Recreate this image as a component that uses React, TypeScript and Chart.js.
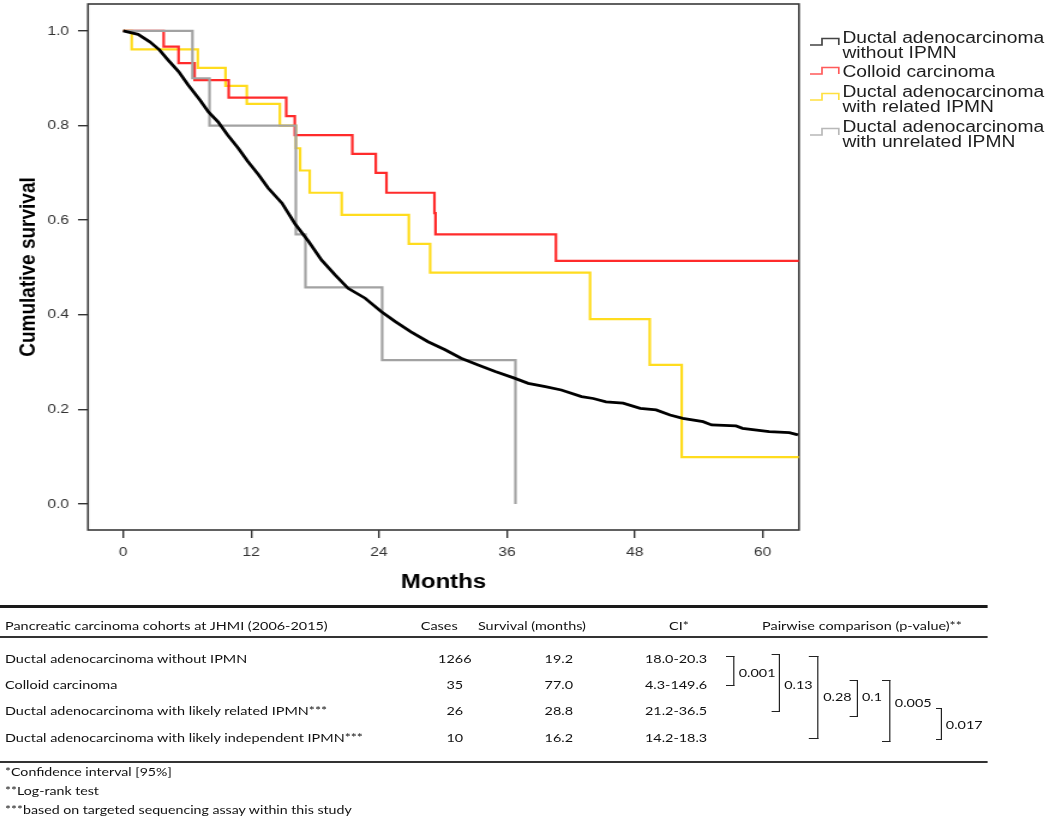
import React, { useEffect, useRef } from "react";
import { Chart, registerables } from "chart.js";

Chart.register(...registerables);

// ---------------- data ----------------
const xTickValues = [0, 12, 24, 36, 48, 60];
const yTickValues = [0, 0.2, 0.4, 0.6, 0.8, 1.0];

const noIpmnMonths = [0, 1.4, 2.5, 3.4, 4.2, 5.2, 6.1, 7.2, 8.0, 8.9, 9.8, 10.8, 11.7, 12.7, 13.6, 14.9, 16.1, 17.4, 18.6, 19.9, 21.1, 22.7, 24.2, 25.5, 27.0, 28.6, 30.2, 31.7, 33.3, 34.9, 36.7, 38.0, 39.6, 41.1, 43.0, 44.1, 45.3, 46.9, 48.5, 50.0, 51.3, 52.5, 54.4, 55.2, 57.5, 58.1, 60.6, 62.5, 63.3];
const noIpmnSurvival = [1, 0.993, 0.977, 0.96, 0.939, 0.914, 0.886, 0.854, 0.829, 0.808, 0.78, 0.752, 0.724, 0.696, 0.668, 0.636, 0.593, 0.555, 0.516, 0.484, 0.456, 0.435, 0.407, 0.386, 0.364, 0.343, 0.326, 0.308, 0.294, 0.28, 0.266, 0.255, 0.248, 0.241, 0.227, 0.223, 0.216, 0.213, 0.202, 0.199, 0.188, 0.181, 0.174, 0.167, 0.165, 0.16, 0.153, 0.151, 0.146];

const colloidMonths = [0, 3.8, 5.2, 6.7, 9.9, 15.3, 16.1, 21.5, 23.7, 24.7, 29.2, 29.3, 40.6, 63.4];
const colloidSurvival = [1, 0.967, 0.932, 0.896, 0.859, 0.82, 0.78, 0.74, 0.7, 0.658, 0.615, 0.57, 0.514, 0.514];

const relatedMonths = [0, 0.8, 7.0, 9.6, 11.6, 14.7, 16.2, 16.6, 17.5, 20.5, 26.8, 28.8, 43.8, 49.4, 52.4, 63.4];
const relatedSurvival = [1, 0.961, 0.922, 0.884, 0.846, 0.8, 0.752, 0.705, 0.658, 0.611, 0.55, 0.489, 0.391, 0.294, 0.099, 0.099];

const unrelatedMonths = [0, 6.5, 8.1, 16.2, 17.1, 24.3, 36.8];
const unrelatedSurvival = [1, 0.9, 0.8, 0.57, 0.458, 0.304, 0.0];

const legendLabels = [
  ["Ductal adenocarcinoma", "without IPMN"],
  ["Colloid carcinoma"],
  ["Ductal adenocarcinoma", "with related IPMN"],
  ["Ductal adenocarcinoma", "with unrelated IPMN"],
];

const tableHeaders = ["Pancreatic carcinoma cohorts at JHMI (2006-2015)", "Cases", "Survival (months)", "CI*", "Pairwise comparison (p-value)**"];
const cohortNames = [
  "Ductal adenocarcinoma without IPMN",
  "Colloid carcinoma",
  "Ductal adenocarcinoma with likely related IPMN***",
  "Ductal adenocarcinoma with likely independent IPMN***",
];
const cohortCases = ["1266", "35", "26", "10"];
const medianSurvival = ["19.2", "77.0", "28.8", "16.2"];
const confidenceIntervals = ["18.0-20.3", "4.3-149.6", "21.2-36.5", "14.2-18.3"];
const pairwisePValues = ["0.001", "0.13", "0.28", "0.1", "0.005", "0.017"];
const footnotes = ["*Confidence interval [95%]", "**Log-rank test", "***based on targeted sequencing assay within this study"];

// ---------------- styling / layout ----------------
const STRETCH = 1.2;
const CW = 875;
const CH = 600;
const seriesColors = ["#000000", "#ff2b2b", "#ffdc1e", "#a2a2a2"];
const legendIconColors = ["#444444", "#ff5a5a", "#ffe040", "#b8b8b8"];
const axisFont = "'Liberation Sans', Arial, sans-serif";
const tableFont = "Lato, 'Open Sans', sans-serif";

const legendLineY = [[38, 52.7], [71.7], [91.7, 106.7], [126.7, 141.7]];
const legendIconY = [38, 67, 93, 128];

const rowY = [659, 685, 711, 738];
const headerY = 626;
const footY = [772, 791, 810];
const brackets = [
  { x: 612.1, x0: 605, top: 656, bottom: 686, labelY: 672.8 },
  { x: 650, x0: 643.1, top: 654, bottom: 712, labelY: 685 },
  { x: 682.5, x0: 674.2, top: 656, bottom: 739, labelY: 697 },
  { x: 714.8, x0: 708.3, top: 679.5, bottom: 716.7, labelY: 697 },
  { x: 742.2, x0: 734.6, top: 679.5, bottom: 742, labelY: 703 },
  { x: 784.7, x0: 779.6, top: 708, bottom: 740, labelY: 724.5 },
];

const toPoints = (xs: number[], ys: number[]) => xs.map((x, i) => ({ x, y: ys[i] }));

const framePlugin = {
  id: "frameBox",
  beforeDatasetsDraw(chart: any) {
    const { ctx, chartArea: a } = chart;
    ctx.save();
    ctx.strokeStyle = "#3a3a3a";
    ctx.lineWidth = 1.6;
    ctx.strokeRect(a.left, a.top, a.right - a.left, a.bottom - a.top);
    ctx.restore();
  },
};

function SurvivalChart() {
  const ref = useRef<HTMLCanvasElement | null>(null);
  useEffect(() => {
    if (!ref.current) return;
    const tickFont = { family: axisFont, size: 13 };
    const chart = new Chart(ref.current, {
      type: "line",
      data: {
        datasets: [
          { label: "Ductal adenocarcinoma without IPMN", data: toPoints(noIpmnMonths, noIpmnSurvival), borderColor: seriesColors[0], borderWidth: 2.8, pointRadius: 0, tension: 0, fill: false, order: 0 },
          { label: "Colloid carcinoma", data: toPoints(colloidMonths, colloidSurvival), borderColor: seriesColors[1], borderWidth: 2.2, pointRadius: 0, stepped: "before", fill: false, order: 2 },
          { label: "Ductal adenocarcinoma with related IPMN", data: toPoints(relatedMonths, relatedSurvival), borderColor: seriesColors[2], borderWidth: 2.2, pointRadius: 0, stepped: "before", fill: false, order: 3 },
          { label: "Ductal adenocarcinoma with unrelated IPMN", data: toPoints(unrelatedMonths, unrelatedSurvival), borderColor: seriesColors[3], borderWidth: 2.2, pointRadius: 0, stepped: "before", fill: false, order: 1 },
        ],
      },
      options: {
        responsive: false,
        animation: false,
        devicePixelRatio: 1,
        layout: { padding: { left: 0, top: 4, right: CW - 665.8, bottom: 0 } },
        plugins: { legend: { display: false }, tooltip: { enabled: false }, title: { display: false } },
        scales: {
          x: {
            type: "linear",
            min: -3.3,
            max: 63.4,
            afterBuildTicks: (axis: any) => { axis.ticks = xTickValues.map((v) => ({ value: v })); },
            afterFit: (axis: any) => { axis.height = 70; axis.paddingLeft = 0; axis.paddingRight = 0; },
            ticks: { font: tickFont, color: "#333", padding: 7, maxRotation: 0, autoSkip: false, callback: (v: any) => String(v) },
            grid: { display: true, drawOnChartArea: false, drawTicks: true, tickLength: 8, color: "#333", lineWidth: 1.4 },
            border: { display: false },
            title: { display: true, text: "Months", color: "#000", font: { family: axisFont, size: 20, weight: "bold" }, padding: { top: 0, bottom: 6 } },
          },
          y: {
            type: "linear",
            min: -0.055,
            max: 1.057,
            afterBuildTicks: (axis: any) => { axis.ticks = yTickValues.map((v) => ({ value: v })); },
            afterFit: (axis: any) => { axis.width = 73.3; axis.paddingTop = 0; axis.paddingBottom = 0; },
            ticks: { font: tickFont, color: "#333", padding: 7.5, callback: (v: any) => Number(v).toFixed(1) },
            grid: { display: true, drawOnChartArea: false, drawTicks: true, tickLength: 8.3, color: "#333", lineWidth: 1.4 },
            border: { display: false },
            title: { display: true, text: "Cumulative survival", color: "#000", font: { family: axisFont, size: 19, weight: "bold" }, padding: { top: 12, bottom: 0 } },
          },
        },
      },
      plugins: [framePlugin],
    } as any);
    return () => chart.destroy();
  }, []);
  return <canvas ref={ref} width={CW} height={CH} style={{ position: "absolute", left: 0, top: 0, width: CW, height: CH }} />;
}

function StepIcon({ color, top }: { color: string; top: number }) {
  return (
    <svg width={26} height={10} style={{ position: "absolute", left: 675, top: top - 1 }} viewBox="0 0 26 10">
      <polyline points="0,8 10,8 10,1.5 24,1.5 24,8" fill="none" stroke={color} strokeWidth={1.4} />
    </svg>
  );
}

function Legend() {
  return (
    <>
      {legendLabels.map((lines, i) => (
        <React.Fragment key={i}>
          <StepIcon color={legendIconColors[i]} top={legendIconY[i]} />
          {lines.map((t, j) => (
            <div key={j} style={{ position: "absolute", left: 702, top: legendLineY[i][j] - 8, height: 16, lineHeight: "16px", fontFamily: axisFont, fontSize: 16, color: "#1e1e1e", whiteSpace: "nowrap" }}>{t}</div>
          ))}
        </React.Fragment>
      ))}
    </>
  );
}

const cellBase: React.CSSProperties = { position: "absolute", fontFamily: tableFont, fontSize: 12, color: "#111", whiteSpace: "nowrap", lineHeight: "16px", height: 16 };

function Centered({ cx, cy, text }: { cx: number; cy: number; text: string }) {
  return <div style={{ ...cellBase, left: cx - 100, width: 200, top: cy - 8, textAlign: "center" }}>{text}</div>;
}

function Table() {
  const headerCenters = [366, 443.3, 565.8, 718.3];
  return (
    <>
      <div style={{ position: "absolute", left: 0, top: 605, width: 823, height: 2.6, background: "#1a1a1a" }} />
      <div style={{ ...cellBase, left: 4.2, top: headerY - 8 }}>{tableHeaders[0]}</div>
      {headerCenters.map((c, i) => <Centered key={i} cx={c} cy={headerY} text={tableHeaders[i + 1]} />)}
      <div style={{ position: "absolute", left: 0, top: 636, width: 823, height: 1.5, background: "#333" }} />
      {cohortNames.map((n, i) => (
        <React.Fragment key={i}>
          <div style={{ ...cellBase, left: 4.2, top: rowY[i] - 8 }}>{n}</div>
          <Centered cx={379} cy={rowY[i]} text={cohortCases[i]} />
          <Centered cx={465.7} cy={rowY[i]} text={medianSurvival[i]} />
          <Centered cx={563.4} cy={rowY[i]} text={confidenceIntervals[i]} />
        </React.Fragment>
      ))}
      {brackets.map((b, i) => (
        <React.Fragment key={i}>
          <div style={{ position: "absolute", left: b.x0, top: b.top, width: b.x - b.x0, height: b.bottom - b.top, borderTop: "1.8px solid #222", borderBottom: "1.8px solid #222", borderRight: "1.6px solid #222", boxSizing: "border-box" }} />
          <div style={{ ...cellBase, left: b.x + 3.5, top: b.labelY - 8 }}>{pairwisePValues[i]}</div>
        </React.Fragment>
      ))}
      <div style={{ position: "absolute", left: 0, top: 761, width: 823, height: 2, background: "#333" }} />
      {footnotes.map((f, i) => (
        <div key={i} style={{ ...cellBase, fontSize: 11.8, left: 4.2, top: footY[i] - 8 }}>{f}</div>
      ))}
    </>
  );
}

export default function App() {
  return (
    <div style={{ position: "absolute", left: 0, top: 0, width: 1050, height: 822, overflow: "hidden", background: "#fff" }}>
      <div style={{ position: "absolute", left: 0, top: 0, width: CW, height: 822, transform: `scaleX(${STRETCH})`, transformOrigin: "0 0" }}>
        <SurvivalChart />
        <Legend />
        <Table />
      </div>
    </div>
  );
}
